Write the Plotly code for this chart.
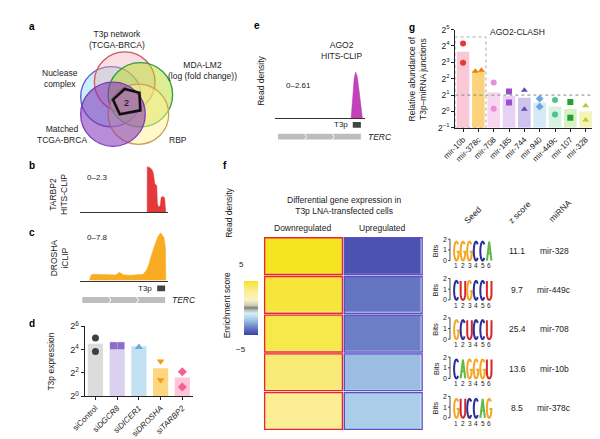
import numpy as np
import plotly.graph_objects as go

W, H = 600, 439
FONT = "Liberation Sans, Arial, sans-serif"


def X(px):
    return px / W


def Y(py):
    return 1 - py / H


def dx(a, b):
    return [X(a), X(b)]


def dy(top, bottom):
    return [Y(bottom), Y(top)]


# ---------------- data ----------------
venn_sets = ["T3p network<br>(TCGA-BRCA)", "Nuclease<br>complex", "MDA-LM2<br>(log (fold change))",
             "Matched<br>TCGA-BRCA", "RBP"]
venn_core_count = 2

# read-density tracks (position along TERC in track units 0-100, signal)
tarbp2_pos = [76.6, 76.7, 78, 80, 82, 83.5, 84.5, 85.3, 86.5, 87.5, 88.2, 89, 90.5, 91.5, 92.5, 94, 95.5, 96.5, 97.2, 97.8]
tarbp2_val = [0, 2.30, 2.28, 2.25, 2.15, 2.0, 1.7, 1.45, 1.40, 1.35, 0.5, 0.3, 0.3, 0.35, 0.75, 0.8, 0.78, 0.7, 0.3, 0]
tarbp2_max = 2.3

drosha_pos = [11.1, 13, 16, 22, 33, 41, 45, 50, 59, 67, 72, 75.6, 78, 80.5, 82.5, 85.2, 88.9, 91.9, 95.6, 97.4, 97.8]
drosha_val = [0, 0.9, 1.0, 0.95, 0.85, 0.9, 1.3, 0.9, 0.85, 0.9, 1.0, 1.6, 2.3, 3.6, 4.6, 5.6, 7.0, 7.6, 6.9, 5.2, 0]
drosha_max = 7.8

ago2_pos = [84.2, 85.9, 87.5, 89.1, 90.8, 92.4, 94.0, 95.7, 96.7]
ago2_val = [0, 1.2, 2.2, 2.61, 2.4, 1.8, 1.0, 0.3, 0]
ago2_max = 2.61

terc_bc = (3, 97)
t3p_bc = (88, 97)
terc_e = (3, 95)
t3p_e = (86, 95)

# panel d
d_categories = ["siControl", "siDGCR8", "siDICER1", "siDROSHA", "siTARBP2"]
d_bar_log2 = [4.5, 4.67, 4.28, 2.4, 1.6]
d_rep1_log2 = [5.0, 4.33, 4.2, 3.0, 2.1]
d_rep2_log2 = [3.83, 4.33, 4.2, 1.4, 0.8]
d_ticks = [0, 2, 4, 6]

# panel f
f_down = [4.9, 4.6, 4.4, 3.6, 3.0]
f_up = [-4.6, -3.8, -3.6, -2.4, -2.0]
seeds = ["GGGCCA", "CUGCCU", "GCUCCU", "CAGGGU", "GUCCAG"]
z_scores = ["11.1", "9.7", "25.4", "13.6", "8.5"]
mirnas = ["mir-328", "mir-449c", "mir-708", "mir-10b", "mir-378c"]

# panel g
g_categories = ["mir-10b", "mir-378c", "mir-708", "mir-185", "mir-744", "mir-940", "mir-449c", "mir-107", "mir-328"]
g_bar_log2 = [3.65, 2.49, 1.18, 0.94, 0.84, 0.54, 0.31, 0.15, -0.01]
g_rep1_log2 = [4.15, 2.45, 1.77, 1.22, 1.30, 0.78, 0.70, 0.58, 0.35]
g_rep2_log2 = [2.98, 2.52, 0.17, 0.54, 0.13, 0.29, -0.19, -0.39, -0.52]
g_ticks = [-1, 0, 1, 2, 3, 4, 5]
g_threshold = 1
g_highlight_top = 4.55

# ---------------- styles ----------------
d_bar_colors = ["#DCDCDC", "#DCD0F1", "#C2E2F4", "#FCD780", "#FFC6DA"]
d_pt_colors = ["#404040", "#8E6CC9", "#6BAED6", "#F39C12", "#F06292"]
d_symbols = ["circle", "square", "triangle-up", "triangle-down", "diamond"]
d_jitter = [0, 0.17, 0, 0, 0]

g_bar_colors = ["#FBC8D8", "#FCD27D", "#F8D6F0", "#E6D3F3", "#CDC3EC", "#D6E9F7", "#D5F2E2", "#D8F0C4", "#F2F4B8"]
g_pt_colors = ["#E53935", "#F57C00", "#E58FD8", "#9C4DCC", "#5E4BB5", "#6AA6E0", "#4CC38A", "#1FA52E", "#B8CC2E"]
g_symbols = ["circle", "triangle-up", "circle", "square", "triangle-up", "diamond", "circle", "square", "triangle-up"]
g_jitter = [0, 0.2, 0, 0, 0, 0, 0, 0, 0]

letter_colors = {"G": "#F5A623", "C": "#2A2D9C", "U": "#D62728", "A": "#5DBB46"}

fig = go.Figure()

# ---- tracks ----
fig.add_trace(go.Scatter(x=tarbp2_pos, y=tarbp2_val, xaxis="x", yaxis="y", mode="lines",
                         line=dict(color="#E5383B", width=0.5), fill="tozeroy", fillcolor="#E5383B",
                         hoverinfo="skip"))
fig.add_trace(go.Scatter(x=drosha_pos, y=drosha_val, xaxis="x2", yaxis="y2", mode="lines",
                         line=dict(color="#F9A825", width=0.5), fill="tozeroy", fillcolor="#F9AC22",
                         hoverinfo="skip"))
fig.add_trace(go.Scatter(x=ago2_pos, y=ago2_val, xaxis="x4", yaxis="y4", mode="lines",
                         line=dict(color="#B83CB0", width=0.5), fill="tozeroy", fillcolor="#C044B8",
                         hoverinfo="skip"))

# ---- panel d ----
d_idx = np.arange(len(d_categories))
fig.add_trace(go.Bar(x=d_idx, y=d_bar_log2, xaxis="x3", yaxis="y3", width=0.7,
                     marker=dict(color=d_bar_colors, line=dict(width=0))))
fig.add_trace(go.Scatter(x=d_idx - np.array(d_jitter), y=d_rep1_log2, xaxis="x3", yaxis="y3", mode="markers",
                         marker=dict(symbol=d_symbols, color=d_pt_colors, size=7)))
fig.add_trace(go.Scatter(x=d_idx + np.array(d_jitter), y=d_rep2_log2, xaxis="x3", yaxis="y3", mode="markers",
                         marker=dict(symbol=d_symbols, color=d_pt_colors, size=7)))

# ---- panel f heatmap ----
colorscale = [[0.0, "#3A3F9E"], [0.04, "#4A53AF"], [0.13, "#6779C4"], [0.26, "#9BBCE3"],
              [0.30, "#AACDEA"], [0.40, "#D4F0F2"], [0.47, "#AEB5AE"], [0.5, "#7E7E78"],
              [0.55, "#CFCDB0"], [0.65, "#F8F2C8"], [0.80, "#FBEE95"], [0.86, "#F9EA78"],
              [0.94, "#F7E84C"], [1.0, "#F5E31A"]]
z = [[a, b] for a, b in zip(f_down, f_up)]
fig.add_trace(go.Heatmap(z=z, x=[0, 1], y=list(range(len(z))), xaxis="x5", yaxis="y5",
                         zmin=-5, zmax=5, colorscale=colorscale, xgap=3, ygap=3,
                         colorbar=dict(thickness=14, thicknessmode="pixels", len=74, lenmode="pixels",
                                       x=X(218), xanchor="left", y=Y(263), yanchor="top",
                                       showticklabels=False, ticks="", outlinewidth=0)))

# ---- panel g ----
g_idx = np.arange(len(g_categories))
g_base = g_ticks[0]
fig.add_trace(go.Bar(x=g_idx, y=np.array(g_bar_log2) - g_base, base=g_base, xaxis="x6", yaxis="y6",
                     width=0.82, marker=dict(color=g_bar_colors, line=dict(width=0))))
fig.add_trace(go.Scatter(x=g_idx - np.array(g_jitter), y=g_rep1_log2, xaxis="x6", yaxis="y6", mode="markers",
                         marker=dict(symbol=g_symbols, color=g_pt_colors, size=6)))
fig.add_trace(go.Scatter(x=g_idx + np.array(g_jitter), y=g_rep2_log2, xaxis="x6", yaxis="y6", mode="markers",
                         marker=dict(symbol=g_symbols, color=g_pt_colors, size=6)))

# ---------------- axes ----------------
track_x = dict(range=[0, 100], showgrid=False, zeroline=False, showticklabels=False, ticks="",
               showline=True, linecolor="#333", linewidth=1.3, fixedrange=True)
track_y = dict(showgrid=False, zeroline=False, showticklabels=False, ticks="", showline=False)
hidden = dict(showgrid=False, zeroline=False, showticklabels=False, ticks="", showline=False)
bar_axis = dict(showgrid=False, zeroline=False, showline=True, linecolor="#222", linewidth=1.1,
                ticks="outside", ticklen=3, tickwidth=1, tickcolor="#222")

sup = lambda v: "2<sup>%s</sup>" % (str(v).replace("-", "−"))
d_labels = [c if c == "siControl" else "si<i>%s</i>" % c[2:] for c in d_categories]

fig.update_layout(
    width=W, height=439, autosize=False, margin=dict(l=0, r=0, t=0, b=0),
    paper_bgcolor="white", plot_bgcolor="rgba(0,0,0,0)", showlegend=False,
    font=dict(family=FONT, size=8, color="#222"),
    xaxis=dict(**track_x, domain=dx(60, 150), anchor="y"),
    yaxis=dict(**track_y, range=[0, 2.35], domain=dy(155, 203), anchor="x"),
    xaxis2=dict(**track_x, domain=dx(60, 150), anchor="y2"),
    yaxis2=dict(**track_y, range=[0, 7.9], domain=dy(222, 273), anchor="x2"),
    xaxis3=dict(**bar_axis, domain=dx(65, 176), anchor="y3", range=[-0.5, 4.5],
                tickvals=list(d_idx), ticktext=d_labels, tickangle=-45,
                tickfont=dict(family=FONT, size=8, color="#222")),
    yaxis3=dict(**bar_axis, domain=dy(320, 392), anchor="x3", range=[0, 6],
                tickvals=d_ticks, ticktext=[sup(v) for v in d_ticks],
                tickfont=dict(family=FONT, size=9, color="#222")),
    xaxis4=dict(**track_x, domain=dx(260, 352), anchor="y4"),
    yaxis4=dict(**track_y, range=[0, 2.7], domain=dy(57, 106), anchor="x4"),
    xaxis5=dict(**hidden, domain=dx(248, 411), anchor="y5", range=[-0.5, 1.5]),
    yaxis5=dict(**hidden, domain=dy(228, 427), anchor="x5", range=[4.5, -0.5]),
    xaxis6=dict(**bar_axis, domain=dx(444, 585), anchor="y6", range=[-0.5, 8.5],
                tickvals=list(g_idx), ticktext=g_categories, tickangle=-45,
                tickfont=dict(family=FONT, size=8, color="#222")),
    yaxis6=dict(**bar_axis, domain=dy(15, 116), anchor="x6", range=[-1, 5],
                tickvals=g_ticks, ticktext=[sup(v) for v in g_ticks],
                tickfont=dict(family=FONT, size=8.5, color="#222")),
)

shapes = []
annotations = []


def ann(text, px, py, size=8.5, xa="center", ya="middle", angle=0, color="#222", **kw):
    annotations.append(dict(text=text, x=X(px), y=Y(py), xref="paper", yref="paper", showarrow=False,
                            xanchor=xa, yanchor=ya, textangle=angle,
                            font=dict(family=FONT, size=size, color=color), **kw))


# ---------------- panel a: Venn ----------------
venn_circles = [  # (cx, cy, r, line, fill)
    (92, 84, 31, "#5B5BD0", "rgba(140,215,240,0.45)"),
    (106, 69, 31, "#D0575A", "rgba(240,175,185,0.40)"),
    (122, 82, 33, "#2E9E3E", "rgba(185,220,40,0.50)"),
    (120, 102, 31, "#C8A050", "rgba(255,242,150,0.50)"),
    (94, 102, 33, "#7A3DB8", "rgba(125,45,185,0.55)"),
]
for cx, cy, r, lc, fc in venn_circles:
    shapes.append(dict(type="circle", xref="paper", yref="paper", x0=X(cx - r), x1=X(cx + r),
                       y0=Y(cy + r), y1=Y(cy - r), line=dict(color=lc, width=1.3), fillcolor=fc))
pent = [(94, 87), (106, 76), (121, 80), (122, 98), (101, 102)]
path = "M " + " L ".join("%.5f,%.5f" % (X(a), Y(b)) for a, b in pent) + " Z"
shapes.append(dict(type="path", xref="paper", yref="paper", path=path, line=dict(color="#111", width=2.6)))
ann("<b>a</b>", 6, 12, size=10, xa="left", color="#000")
ann(venn_sets[0], 98, 25)
ann(venn_sets[1], 40, 65)
ann(venn_sets[2], 186, 57)
ann(venn_sets[3], 42, 123)
ann(venn_sets[4], 160, 128)
ann(str(venn_core_count), 108, 90, size=9, color="#000")

# ---------------- panels b, c ----------------
ann("<b>b</b>", 6, 155, size=10, xa="left", color="#000")
ann("TARBP2<br>HITS-CLIP", 39, 185, angle=-90)
ann("0–%s" % tarbp2_max, 65, 167, size=8, xa="left")
ann("<b>c</b>", 6, 224, size=10, xa="left", color="#000")
ann("DROSHA<br>iCLIP", 39, 250, angle=-90)
ann("0–%s" % drosha_max, 65, 229, size=8, xa="left")


def gene_model(xref, terc, t3p, box_y, bar_y, label_px, terc_label_px):
    # T3p box
    shapes.append(dict(type="rect", xref=xref, yref="paper", x0=t3p[0], x1=t3p[1],
                       y0=Y(box_y[1]), y1=Y(box_y[0]), fillcolor="#444", line=dict(width=0)))
    # TERC gene bar
    shapes.append(dict(type="rect", xref=xref, yref="paper", x0=terc[0], x1=terc[1],
                       y0=Y(bar_y[1]), y1=Y(bar_y[0]), fillcolor="#BDBDBD", line=dict(width=0)))
    L = terc[1] - terc[0]
    for f in (1 / 3, 2 / 3):
        xc = terc[0] + L * f
        p = "M %.3f,%.5f L %.3f,%.5f L %.3f,%.5f" % (xc - 1.2, Y(bar_y[0]), xc + 1.2, Y((bar_y[0] + bar_y[1]) / 2),
                                                     xc - 1.2, Y(bar_y[1]))
        shapes.append(dict(type="path", xref=xref, yref="paper", path=p, line=dict(color="white", width=1)))
    ann("T3p", label_px[0], label_px[1], size=8)
    ann("<i>TERC</i>", terc_label_px[0], terc_label_px[1], size=8.5, xa="left")


gene_model("x2", terc_bc, t3p_bc, (278, 284), (290, 296), (127, 281), (152, 293))

# ---------------- panel d ----------------
ann("<b>d</b>", 6, 317, size=10, xa="left", color="#000")
ann("T3p expression", 31, 356, angle=-90)

# ---------------- panel e ----------------
ann("<b>e</b>", 236, 11, size=10, xa="left", color="#000")
ann("AGO2<br>HITS-CLIP", 328, 36)
ann("Read density", 245, 68, angle=-90)
ann("0–%s" % ago2_max, 269, 72, size=8, xa="left")
gene_model("x4", terc_e, t3p_e, (110, 116), (122, 128), (327, 113), (353, 125))

# ---------------- panel f ----------------
ann("<b>f</b>", 204, 155, size=10, xa="left", color="#000")
ann("Read density", 213, 203, angle=-90)
ann("Differential gene expression in<br>T3p LNA-transfected cells", 330, 196)
ann("Downregulated", 288, 219)
ann("Upregulated", 370, 219)
ann("5", 225, 257, size=8)
ann("−5", 225, 344, size=8)
ann("Enrichment score", 210, 298, angle=-90)
for r in range(len(z)):
    for c, col in enumerate(["#E8262B", "#5A4FC4"]):
        shapes.append(dict(type="rect", xref="x5", yref="y5", x0=c - 0.488, x1=c + 0.488,
                           y0=r - 0.475, y1=r + 0.475, line=dict(color=col, width=1.4)))

ann("Seed", 462, 206, angle=-45)
ann("z score", 510, 203, angle=-45)
ann("miRNA", 551, 202, angle=-45)


def glyph(ch):
    strokes = []
    if ch == "C":
        th = np.radians(np.arange(45, 316, 15))
        strokes.append(list(zip(0.5 + 0.5 * np.cos(th), 0.5 + 0.5 * np.sin(th))))
    elif ch == "G":
        th = np.radians(np.arange(45, 346, 15))
        pts = list(zip(0.5 + 0.5 * np.cos(th), 0.5 + 0.5 * np.sin(th)))
        pts += [(1.0, 0.46), (0.55, 0.46)]
        strokes.append(pts)
    elif ch == "U":
        th = np.radians(np.arange(180, 361, 15))
        pts = [(0, 1)] + list(zip(0.5 + 0.5 * np.cos(th), 0.32 + 0.32 * np.sin(th))) + [(1, 1)]
        strokes.append(pts)
    elif ch == "A":
        strokes.append([(0, 0), (0.5, 1), (1, 0)])
        strokes.append([(0.22, 0.38), (0.78, 0.38)])
    return strokes


for i, seq in enumerate(seeds):
    rc = 242 + 40.4 * i
    top, bot = rc - 9, rc + 10.5
    # bits axis
    ann("Bits", 424, rc, size=7.5, angle=-90)
    for lab, yy in (("2", rc - 11.5), ("1", rc - 0.5), ("0", rc + 10.5)):
        ann(lab, 433, yy, size=7)
        shapes.append(dict(type="line", xref="paper", yref="paper", x0=X(436.5), x1=X(438.5),
                           y0=Y(yy), y1=Y(yy), line=dict(color="#222", width=0.8)))
    shapes.append(dict(type="line", xref="paper", yref="paper", x0=X(438.5), x1=X(438.5),
                       y0=Y(rc + 10.5), y1=Y(rc - 11.5), line=dict(color="#222", width=0.8)))
    for k, ch in enumerate(seq):
        bx = 441.7 + 6.7 * k + 1.0
        w = 4.7
        for stroke in glyph(ch):
            p = "M " + " L ".join("%.5f,%.5f" % (X(bx + u * w), Y(bot - v * (bot - top))) for u, v in stroke)
            shapes.append(dict(type="path", xref="paper", yref="paper", path=p,
                               line=dict(color=letter_colors[ch], width=2.0)))
        ann(str(k + 1), bx + w / 2, rc + 16, size=6.5)
    ann(z_scores[i], 507, rc + 0.5, size=8.5)
    ann(mirnas[i], 545, rc + 0.5, size=8.5)

# ---------------- panel g ----------------
ann("<b>g</b>", 395, 13, size=10, xa="left", color="#000")
ann("AGO2-CLASH", 508, 17, size=8.5)
ann("Relative abundance of<br>T3p–miRNA junctions", 405, 66, size=8.5, angle=-90)
shapes.append(dict(type="line", xref="x6 domain", yref="y6", x0=0, x1=1, y0=g_threshold, y1=g_threshold,
                   line=dict(color="#888", width=1, dash="dot")))
shapes.append(dict(type="rect", xref="x6", yref="y6", x0=-0.5, x1=1.5, y0=g_base, y1=g_highlight_top,
                   line=dict(color="#AAA", width=1, dash="dot")))

fig.update_layout(shapes=shapes, annotations=annotations)
fig.write_html("out.html")
